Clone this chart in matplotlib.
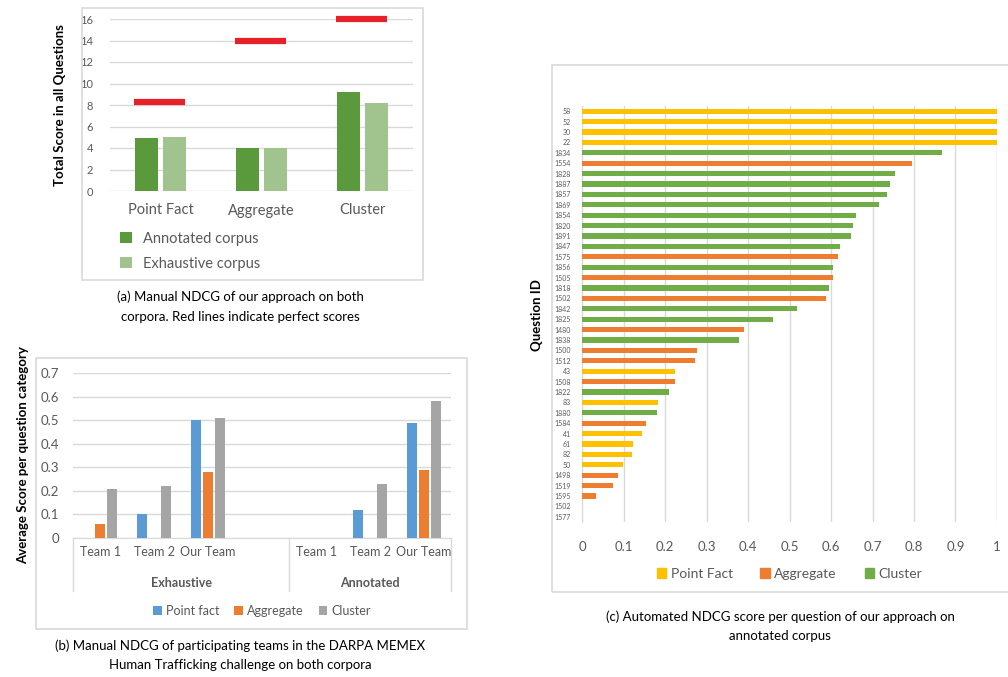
import matplotlib
matplotlib.use("Agg")
from matplotlib import pyplot as plt
from matplotlib.patches import Rectangle, Patch
import numpy as np

plt.rcParams['font.family'] = ['Lato', 'DejaVu Sans']

# ---- data (a)
a_cats = ['Point Fact', 'Aggregate', 'Cluster']
a_annotated = [4.9, 4.0, 9.2]
a_exhaustive = [5.0, 4.0, 8.2]
a_perfect = [8.3, 14.0, 16.0]

# ---- data (b)
b_teams = ['Team 1', 'Team 2', 'Our Team']
b_groups = ['Exhaustive', 'Annotated']
b_point = [0.0, 0.10, 0.50, 0.0, 0.12, 0.49]
b_aggr = [0.06, 0.0, 0.28, 0.0, 0.0, 0.29]
b_clus = [0.21, 0.22, 0.51, 0.0, 0.23, 0.58]

# ---- data (c)
c_ids = ['58', '52', '30', '22', '1834', '1554', '1828', '1887', '1857', '1869',
         '1854', '1820', '1891', '1847', '1575', '1856', '1505', '1818', '1502', '1842',
         '1825', '1480', '1838', '1500', '1512', '43', '1508', '1822', '83', '1880',
         '1584', '41', '61', '82', '50', '1498', '1519', '1595', '1502', '1577']
c_scores = [1.0, 1.0, 1.0, 1.0, 0.867, 0.795, 0.754, 0.742, 0.735, 0.716,
            0.660, 0.653, 0.648, 0.622, 0.617, 0.605, 0.605, 0.595, 0.588, 0.518,
            0.460, 0.390, 0.378, 0.277, 0.272, 0.224, 0.224, 0.210, 0.183, 0.181,
            0.154, 0.145, 0.123, 0.120, 0.099, 0.087, 0.075, 0.034, 0.0, 0.0]
c_types = ['P', 'P', 'P', 'P', 'C', 'A', 'C', 'C', 'C', 'C',
           'C', 'C', 'C', 'C', 'A', 'C', 'A', 'C', 'A', 'C',
           'C', 'A', 'C', 'A', 'A', 'P', 'A', 'C', 'P', 'C',
           'A', 'P', 'P', 'P', 'P', 'A', 'A', 'A', 'A', 'A']

W, H = 1008, 677
fig = plt.figure(figsize=(W / 100, H / 100), dpi=100)


def px_axes(x0, y0, x1, y1):
    return fig.add_axes([x0 / W, 1 - y1 / H, (x1 - x0) / W, (y1 - y0) / H])


def box(x0, y0, x1, y1):
    fig.patches.append(Rectangle((x0 / W, 1 - y1 / H), (x1 - x0) / W, (y1 - y0) / H,
                                 transform=fig.transFigure, fill=False,
                                 edgecolor='#d9d9d9', linewidth=1.2))


grid_c = '#d9d9d9'
tick_c = '#595959'

# ================= panel (a)
box(82, 8, 423, 280)
ax = px_axes(110, 19, 413, 191)
x = np.arange(len(a_cats))
dark_g, light_g = '#5b9a3c', '#a1c48f'
ax.bar(x - 0.14, a_annotated, width=0.225, color=dark_g, label='Annotated corpus', zorder=3)
ax.bar(x + 0.14, a_exhaustive, width=0.225, color=light_g, label='Exhaustive corpus', zorder=3)
ax.hlines(a_perfect, x - 0.26, x + 0.245, colors='#e8202a', linewidth=4.5, zorder=4,
          clip_on=False)
ax.set_xlim(-0.5, 2.5)
ax.set_ylim(0, 16)
ax.set_yticks(range(0, 17, 2))
ax.tick_params(axis='y', length=0, labelsize=8, labelcolor=tick_c, pad=12)
ax.tick_params(axis='x', length=0, labelsize=10.5, labelcolor=tick_c, pad=9)
ax.set_xticks(x)
ax.set_xticklabels(a_cats)
ax.grid(axis='y', color=grid_c, linewidth=1, zorder=0)
for s in ax.spines.values():
    s.set_visible(False)
ax.set_ylabel('Total Score in all Questions', fontsize=9.5, fontweight='bold', labelpad=10)
ax.legend(loc='upper left', bbox_to_anchor=(-0.01, -0.16), frameon=False, fontsize=10.5,
          labelcolor=tick_c, handlelength=0.8, handleheight=0.8, labelspacing=0.75)
fig.text(240 / W, 1 - 297 / H, '(a) Manual NDCG of our approach on both',
         ha='center', va='center', fontsize=9.5)
fig.text(240 / W, 1 - 317 / H, 'corpora. Red lines indicate perfect scores',
         ha='center', va='center', fontsize=9.5)

# ================= panel (b)
box(36, 358, 467, 629)
axb = px_axes(73, 373, 451, 538)
xb = np.array([0, 1, 2, 4, 5, 6])
axb.bar(xb - 0.22, b_point, width=0.18, color='#5b9bd5', label='Point fact', zorder=3)
axb.bar(xb, b_aggr, width=0.18, color='#ed7d31', label='Aggregate', zorder=3)
axb.bar(xb + 0.22, b_clus, width=0.18, color='#a5a5a5', label='Cluster', zorder=3)
axb.set_xlim(-0.5, 6.5)
axb.set_ylim(0, 0.7)
axb.set_yticks(np.arange(0, 0.71, 0.1))
axb.set_yticklabels(['0', '0.1', '0.2', '0.3', '0.4', '0.5', '0.6', '0.7'])
axb.tick_params(axis='y', length=0, labelsize=9.5, labelcolor=tick_c, pad=10)
axb.set_xticks(xb)
axb.set_xticklabels(b_teams * 2)
axb.tick_params(axis='x', length=0, labelsize=9, labelcolor=tick_c, pad=6)
axb.grid(axis='y', color=grid_c, linewidth=1, zorder=0)
for s in ['top', 'right', 'left']:
    axb.spines[s].set_visible(False)
axb.spines['bottom'].set_color(grid_c)
for xv in [-0.5, 3.5, 6.5]:
    axb.plot([xv, xv], [0, -0.225], color=grid_c, linewidth=1, clip_on=False)
for gx, g in zip([1.5, 5.0], b_groups):
    axb.text(gx, -0.19, g, ha='center', va='center', fontsize=9, color=tick_c,
             fontweight='bold')
axb.set_ylabel('Average Score per question category', fontsize=9.5, fontweight='bold',
               labelpad=8)
axb.legend(loc='center', bbox_to_anchor=(0.5, -0.44), ncol=3, frameon=False, fontsize=9,
           labelcolor=tick_c, handlelength=0.7, handleheight=0.7, handletextpad=0.3,
           columnspacing=1.2)
fig.text(240 / W, 1 - 646 / H, '(b) Manual NDCG of participating teams in the DARPA MEMEX',
         ha='center', va='center', fontsize=9.5)
fig.text(240 / W, 1 - 665 / H, 'Human Trafficking challenge on both corpora',
         ha='center', va='center', fontsize=9.5)

# ================= panel (c)
box(552, 65, 1010, 592)
axc = px_axes(582, 106, 997, 522)
cmap = {'P': '#ffc000', 'A': '#ed7d31', 'C': '#70ad47'}
yc = np.arange(len(c_ids))
axc.barh(yc, c_scores, height=0.5, color=[cmap[t] for t in c_types], zorder=3)
axc.set_ylim(len(c_ids) - 0.5, -0.5)
axc.set_xlim(0, 1)
axc.set_xticks(np.arange(0, 1.01, 0.1))
axc.set_xticklabels(['0', '0.1', '0.2', '0.3', '0.4', '0.5', '0.6', '0.7', '0.8', '0.9', '1'])
axc.tick_params(axis='x', length=0, labelsize=9.5, labelcolor=tick_c, pad=14)
axc.set_yticks(yc)
axc.set_yticklabels(c_ids)
axc.tick_params(axis='y', length=0, labelsize=5, labelcolor=tick_c, pad=8)
axc.grid(axis='x', color=grid_c, linewidth=1, zorder=0)
for s in ['top', 'right', 'bottom']:
    axc.spines[s].set_visible(False)
axc.spines['left'].set_color(grid_c)
fig.text(537 / W, 1 - 315 / H, 'Question ID', rotation=90, ha='center', va='center',
         fontsize=9.5, fontweight='bold')
handles = [Patch(color=cmap['P'], label='Point Fact'), Patch(color=cmap['A'], label='Aggregate'),
           Patch(color=cmap['C'], label='Cluster')]
axc.legend(handles=handles, loc='center', bbox_to_anchor=(0.5, -0.125), ncol=3, frameon=False,
           fontsize=10, labelcolor=tick_c, handlelength=0.7, handleheight=0.7,
           handletextpad=0.3, columnspacing=2.0)
fig.text(780 / W, 1 - 617 / H, '(c) Automated NDCG score per question of our approach on',
         ha='center', va='center', fontsize=9.5)
fig.text(780 / W, 1 - 636 / H, 'annotated corpus', ha='center', va='center', fontsize=9.5)

fig.savefig('out.png', dpi=100)
